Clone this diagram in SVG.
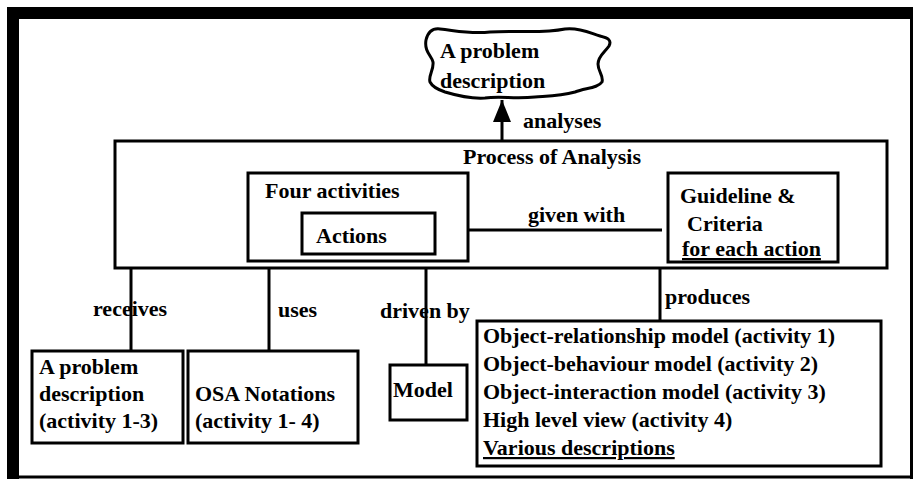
<svg xmlns="http://www.w3.org/2000/svg" width="915" height="481" viewBox="0 0 915 481">
<style>
  text { font-family: "Liberation Serif", "Times New Roman", serif; font-weight: bold; font-size: 22px; fill: #000; }
  .box { fill: #fff; stroke: #000; stroke-width: 3; }
  .conn { stroke: #000; stroke-width: 3; fill: none; }
  .ul { text-decoration: underline; }
</style>
<defs>
  <marker id="arrow" markerUnits="userSpaceOnUse" viewBox="0 0 22 18" markerWidth="22" markerHeight="18" refX="22" refY="9" orient="auto">
    <path d="M0,0 L22,9 L0,18 Z" fill="#000"/>
  </marker>
</defs>
<rect width="915" height="481" fill="#fff"/>
<g id="frame">
  <rect x="7" y="7" width="906" height="12" fill="#000"/>
  <rect x="7" y="7" width="12" height="472" fill="#000"/>
  <line x1="911.5" y1="7" x2="911.5" y2="479" stroke="#000" stroke-width="3"/>
  <line x1="7" y1="477" x2="913" y2="477" stroke="#000" stroke-width="3"/>
</g>
<g id="problem-cloud">
  <path class="box" d="M426,40 C428,32 432,28 440,29 C458,31 470,34 490,32 C515,30 540,34 565,29 C580,27 592,34 600,36 C608,38 612,40 609,46 C605,52 598,56 598,64 C598,72 604,76 602,82 C598,88 586,88 575,92 C560,96 548,96 535,97 C515,99 500,96 485,98 C470,99 455,95 445,92 C436,89 432,86 430,82 C428,76 434,70 433,62 C432,56 424,52 426,40 Z"/>
  <text x="440" y="58">A problem</text>
  <text x="440" y="88">description</text>
</g>
<g id="process">
  <rect class="box" x="115" y="141" width="772" height="127"/>
  <text x="463" y="164">Process of Analysis</text>
</g>
<g id="four-activities">
  <rect class="box" x="248" y="173" width="220" height="88"/>
  <text x="265" y="198">Four activities</text>
</g>
<g id="actions">
  <rect class="box" x="302" y="213" width="133" height="41"/>
  <text x="316" y="243">Actions</text>
</g>
<g id="guideline">
  <rect class="box" x="668" y="173" width="170" height="89"/>
  <text x="680" y="203">Guideline &amp;</text>
  <text x="687" y="231">Criteria</text>
  <text class="ul" x="682" y="256">for each action</text>
</g>
<g id="problem-description">
  <rect class="box" x="32" y="351" width="151" height="92"/>
  <text x="39" y="374">A problem</text>
  <text x="39" y="401">description</text>
  <text x="39" y="428">(activity 1-3)</text>
</g>
<g id="osa-notations">
  <rect class="box" x="188" y="351" width="170" height="92"/>
  <text x="195" y="401">OSA Notations</text>
  <text x="195" y="428">(activity 1- 4)</text>
</g>
<g id="model">
  <rect class="box" x="390" y="365" width="77" height="55"/>
  <text x="393" y="397">Model</text>
</g>
<g id="products">
  <rect class="box" x="477" y="321" width="404" height="145"/>
  <text x="483" y="343">Object-relationship model (activity 1)</text>
  <text x="483" y="371">Object-behaviour model (activity 2)</text>
  <text x="483" y="399">Object-interaction model (activity 3)</text>
  <text x="483" y="427">High level view (activity 4)</text>
  <text class="ul" x="483" y="455">Various descriptions</text>
</g>
<g id="connectors">
  <line class="conn" x1="502" y1="141" x2="502" y2="100" marker-end="url(#arrow)"/>
  <line class="conn" x1="468" y1="230" x2="662" y2="230"/>
  <line class="conn" x1="131" y1="268" x2="131" y2="351"/>
  <line class="conn" x1="269" y1="268" x2="269" y2="351"/>
  <line class="conn" x1="426" y1="268" x2="426" y2="365"/>
  <line class="conn" x1="660" y1="268" x2="660" y2="321"/>
  <text x="523" y="128">analyses</text>
  <text x="528" y="222">given with</text>
  <text x="93" y="316">receives</text>
  <text x="278" y="317">uses</text>
  <text x="380" y="318">driven by</text>
  <text x="665" y="304">produces</text>
</g>
</svg>
